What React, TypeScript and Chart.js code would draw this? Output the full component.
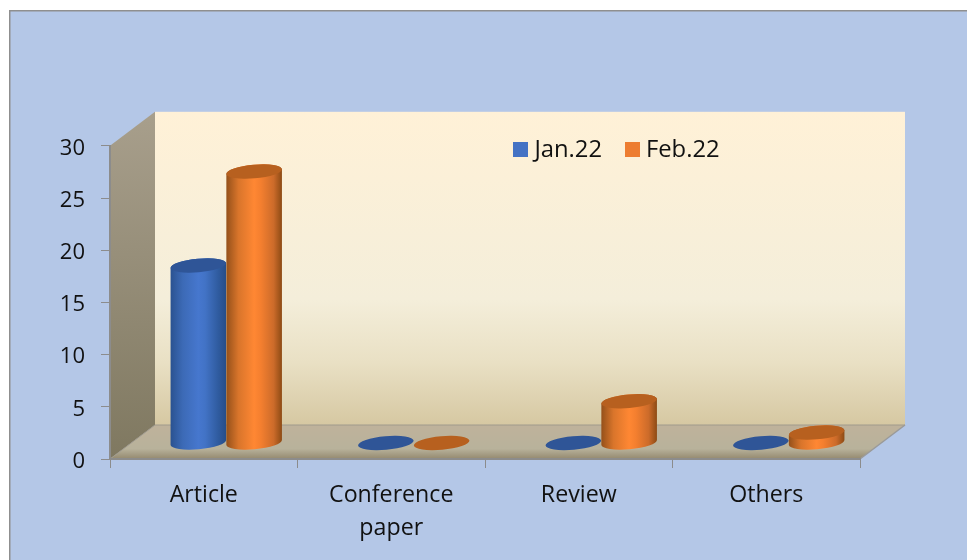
import React, { useEffect, useRef } from "react";
import { Chart, registerables } from "chart.js";

Chart.register(...registerables);

const categories: (string | string[])[] = ["Article", ["Conference", "paper"], "Review", "Others"];
const jan22 = [17, 0, 0, 0];
const feb22 = [26, 0, 4, 1];
const seriesNames = ["Jan.22", "Feb.22"];
const legendColors = ["#4472C4", "#ED7D31"];
const topColors = ["#2F5597", "#B7601F"];
const sideStops = [
  ["#2A5290", "#3C6AB6", "#4677CE", "#4273C6", "#305CA0", "#264D88"],
  ["#94501A", "#D9752B", "#FF8733", "#F47F2F", "#CC6B2A", "#8C4A14"],
];

const DEPTH_X = 45;
const DEPTH_Y = 34;
const CYL_X = 22.5;
const CYL_Y = 16;
const TILT = (-5 * Math.PI) / 180;
const RY = 6.8;
const FONT = "Open Sans";

function swatch(color: string) {
  const c = document.createElement("canvas");
  c.width = 15;
  c.height = 15;
  const x = c.getContext("2d")!;
  x.fillStyle = color;
  x.fillRect(0, 0, 15, 15);
  return c;
}

const scenery = {
  id: "scenery",
  beforeDraw(chart: any) {
    const { ctx, chartArea: a, width, height } = chart;
    const { left: l, right: r, top: t, bottom: b } = a;
    ctx.save();
    ctx.fillStyle = "#ffffff";
    ctx.fillRect(0, 0, width, height);
    ctx.fillStyle = "#B4C7E7";
    ctx.fillRect(9, 10, width, height);
    ctx.strokeStyle = "#8F8F8F";
    ctx.lineWidth = 1.5;
    ctx.beginPath();
    ctx.moveTo(9.75, height);
    ctx.lineTo(9.75, 10.75);
    ctx.lineTo(width, 10.75);
    ctx.stroke();

    const wall = ctx.createLinearGradient(0, t - DEPTH_Y, 0, b - DEPTH_Y);
    wall.addColorStop(0, "#FFF1D7");
    wall.addColorStop(0.6, "#F4EEDA");
    wall.addColorStop(0.8, "#E9E0C4");
    wall.addColorStop(1, "#D6C8A2");
    ctx.fillStyle = wall;
    ctx.fillRect(l + DEPTH_X, t - DEPTH_Y, r - l, b - t);

    const side = ctx.createLinearGradient(0, t - DEPTH_Y, 0, b);
    side.addColorStop(0, "#A89F8C");
    side.addColorStop(1, "#7F7860");
    ctx.fillStyle = side;
    ctx.beginPath();
    ctx.moveTo(l, t);
    ctx.lineTo(l + DEPTH_X, t - DEPTH_Y);
    ctx.lineTo(l + DEPTH_X, b - DEPTH_Y);
    ctx.lineTo(l, b);
    ctx.closePath();
    ctx.fill();

    const floor = ctx.createLinearGradient(0, b - DEPTH_Y, 0, b);
    floor.addColorStop(0, "#BFB29B");
    floor.addColorStop(0.7, "#B8B29B");
    floor.addColorStop(1, "#94896F");
    ctx.fillStyle = floor;
    ctx.beginPath();
    ctx.moveTo(l + DEPTH_X, b - DEPTH_Y);
    ctx.lineTo(r + DEPTH_X, b - DEPTH_Y);
    ctx.lineTo(r, b);
    ctx.lineTo(l, b);
    ctx.closePath();
    ctx.fill();

    ctx.strokeStyle = "#A09A8C";
    ctx.lineWidth = 1;
    ctx.beginPath();
    ctx.moveTo(l, b);
    ctx.lineTo(l + DEPTH_X, b - DEPTH_Y);
    ctx.lineTo(r + DEPTH_X, b - DEPTH_Y);
    ctx.stroke();
    ctx.strokeStyle = "#9A9A9A";
    ctx.lineWidth = 1.5;
    ctx.beginPath();
    ctx.moveTo(r + DEPTH_X, b - DEPTH_Y);
    ctx.lineTo(r, b);
    ctx.stroke();
    ctx.restore();
  },
  afterLayout(chart: any) {
    const lg = chart.legend;
    const h = lg.height;
    lg.left = 490.5;
    lg.right = 490.5 + lg.width;
    lg.top = 110;
    lg.bottom = lg.top + h;
    lg.adjustHitBoxes();
  },
  beforeDatasetsDraw(chart: any) {
    const ctx = chart.ctx;
    chart.data.datasets.forEach((_: any, i: number) => {
      chart.getDatasetMeta(i).data.forEach((el: any) => {
        const rx = el.width / 2;
        const cx = el.x + CYL_X;
        const topY = el.y - CYL_Y;
        const baseY = el.base - CYL_Y;
        ctx.save();
        if (baseY - topY > 0.5) {
          const g = ctx.createLinearGradient(cx - rx, 0, cx + rx, 0);
          const stops = sideStops[i];
          [0, 0.22, 0.5, 0.62, 0.85, 1].forEach((p, k) => g.addColorStop(p, stops[k]));
          ctx.fillStyle = g;
          ctx.beginPath();
          ctx.ellipse(cx, baseY, rx, RY, TILT, 0, Math.PI);
          ctx.ellipse(cx, topY, rx, RY, TILT, Math.PI, Math.PI * 2);
          ctx.closePath();
          ctx.fill();
        }
        ctx.fillStyle = topColors[i];
        ctx.beginPath();
        ctx.ellipse(cx, topY, rx, RY, TILT, 0, Math.PI * 2);
        ctx.fill();
        ctx.restore();
      });
    });
    return false;
  },
};

export default function App() {
  const ref = useRef<HTMLCanvasElement>(null);
  useEffect(() => {
    const chart = new Chart(ref.current!, {
      type: "bar",
      data: {
        labels: categories as any,
        datasets: [
          { label: seriesNames[0], data: jan22, backgroundColor: legendColors[0] },
          { label: seriesNames[1], data: feb22, backgroundColor: legendColors[1] },
        ],
      },
      plugins: [scenery],
      options: {
        responsive: false,
        animation: false,
        categoryPercentage: 0.595,
        barPercentage: 1,
        layout: { padding: { top: 84, right: 107, left: 0, bottom: 0 } },
        plugins: {
          title: { display: false },
          tooltip: { enabled: false },
          legend: {
            display: true,
            position: "top",
            align: "start",
            labels: {
              usePointStyle: true,
              boxWidth: 4,
              boxHeight: 15,
              padding: 28,
              color: "#111111",
              font: { family: FONT, size: 23.8 },
              generateLabels: (c: any) =>
                Chart.defaults.plugins.legend.labels
                  .generateLabels(c)
                  .map((it: any, i: number) => ({ ...it, pointStyle: swatch(legendColors[i]) })),
            },
          },
        },
        scales: {
          x: {
            afterFit: (s: any) => {
              s.height = 101;
            },
            grid: { drawOnChartArea: false, drawTicks: true, tickLength: 9, color: "#8C8C8C", lineWidth: 1 },
            border: { display: true, color: "#8C8C8C", width: 2 },
            ticks: {
              color: "#111111",
              maxRotation: 0,
              minRotation: 0,
              autoSkip: false,
              padding: 11,
              font: { family: FONT, size: 23.2, lineHeight: 1.42 },
            },
          },
          y: {
            min: 0,
            max: 30,
            afterFit: (s: any) => {
              s.width = 110;
            },
            grid: { drawOnChartArea: false, drawTicks: true, tickLength: 9, color: "#8C8C8C", lineWidth: 1 },
            border: { display: true, color: "#8C8C8C", width: 2 },
            ticks: {
              stepSize: 5,
              color: "#111111",
              padding: 16,
              labelOffset: 2.5,
              font: { family: FONT, size: 22 },
            },
          },
        },
      } as any,
    });
    return () => chart.destroy();
  }, []);
  return (
    <div style={{ position: "absolute", left: 0, top: 0, width: 967, height: 560 }}>
      <canvas ref={ref} width={967} height={560} style={{ display: "block" }} />
    </div>
  );
}
